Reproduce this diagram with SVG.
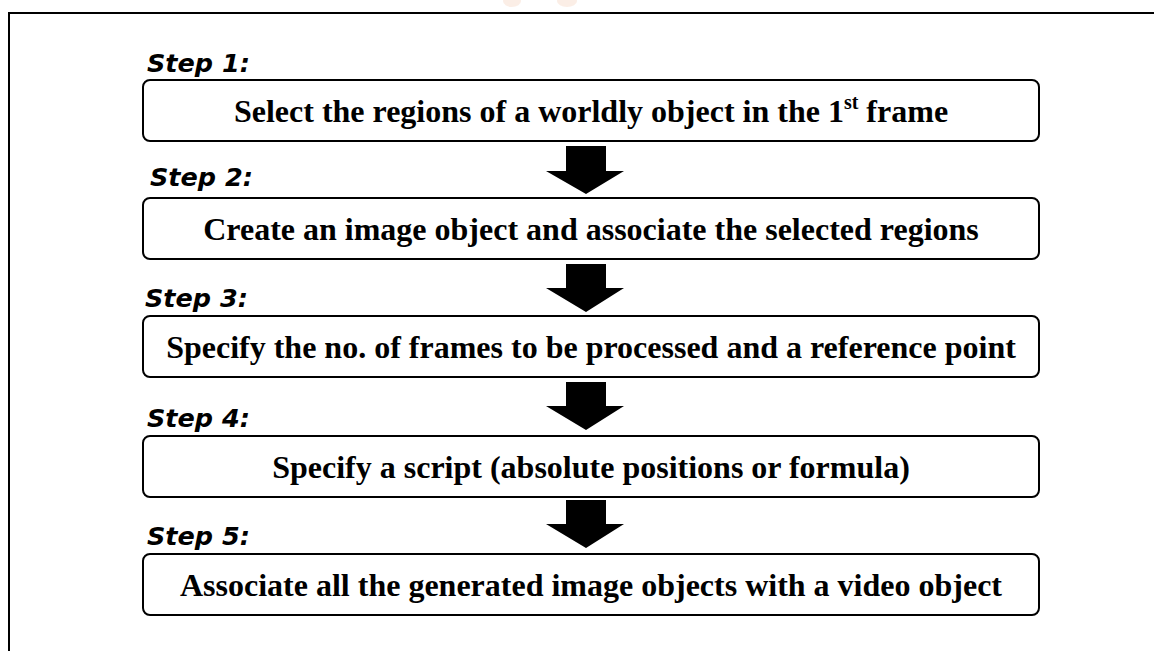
<svg xmlns="http://www.w3.org/2000/svg" width="1154" height="651" viewBox="0 0 1154 651">
  <style>
    .frame { fill: none; stroke: #000; stroke-width: 2; }
    .box { fill: #fff; stroke: #000; stroke-width: 2; }
    .step { font-family: "DejaVu Sans", Verdana, sans-serif; font-weight: bold; font-style: italic; font-size: 25.5px; fill: #000; }
    .label { font-family: "Liberation Serif", "Times New Roman", serif; font-weight: bold; font-size: 32px; fill: #000; text-anchor: middle; }
    .arrow { fill: #000; }
  </style>
  <rect width="1154" height="651" fill="#fff"/>
  <!-- faint logo remnants at the top edge -->
  <ellipse cx="512" cy="1" rx="9" ry="6" fill="#f2c7ad" opacity="0.3"/>
  <ellipse cx="567" cy="1" rx="10" ry="6" fill="#f2c7ad" opacity="0.3"/>
  <!-- outer frame -->
  <path class="frame" d="M9 651 V13 H1154"/>

  <g id="step1">
    <text class="step" x="147" y="72">Step 1:</text>
    <rect class="box" x="143" y="80" width="896" height="61" rx="7"/>
    <text class="label" x="591" y="122">Select the regions of a worldly object in the 1<tspan font-size="20" dy="-13">st</tspan><tspan dy="13"> frame</tspan></text>
  </g>
  <g id="step2">
    <text class="step" x="150" y="186">Step 2:</text>
    <rect class="box" x="143" y="198" width="896" height="61" rx="7"/>
    <text class="label" x="591" y="240">Create an image object and associate the selected regions</text>
  </g>
  <g id="step3">
    <text class="step" x="145" y="307">Step 3:</text>
    <rect class="box" x="143" y="316" width="896" height="61" rx="7"/>
    <text class="label" x="591" y="358">Specify the no. of frames to be processed and a reference point</text>
  </g>
  <g id="step4">
    <text class="step" x="147" y="427">Step 4:</text>
    <rect class="box" x="143" y="436" width="896" height="61" rx="7"/>
    <text class="label" x="591" y="478">Specify a script (absolute positions or formula)</text>
  </g>
  <g id="step5">
    <text class="step" x="147" y="545">Step 5:</text>
    <rect class="box" x="143" y="554" width="896" height="61" rx="7"/>
    <text class="label" x="591" y="596">Associate all the generated image objects with a video object</text>
  </g>

  <g id="connectors">
    <polygon class="arrow" points="566,146 606,146 606,171 624,171 586,194 546,171 566,171"/>
    <polygon class="arrow" points="566,264 606,264 606,288 624,288 586,312 546,288 566,288"/>
    <polygon class="arrow" points="566,382 606,382 606,406 624,406 586,430 546,406 566,406"/>
    <polygon class="arrow" points="566,500 606,500 606,524 624,524 586,548 546,524 566,524"/>
  </g>
</svg>
